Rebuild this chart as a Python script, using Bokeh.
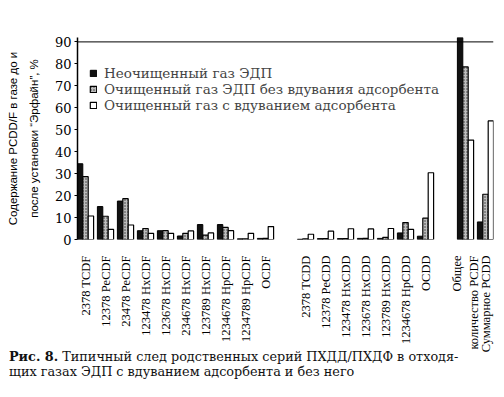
import math
import numpy as np
from bokeh.plotting import figure
from bokeh.layouts import column
from bokeh.models import (Range1d, FixedTicker, Span, Legend, LegendItem, ColumnDataSource,
                          Div, LinearAxis)
from bokeh.transform import dodge
from bokeh.embed import file_html
from bokeh.resources import INLINE

# ---- data ----
categories = ["2378 TCDF", "12378 PeCDF", "23478 PeCDF", "123478 HxCDF", "123678 HxCDF",
              "234678 HxCDF", "123789 HxCDF", "1234678 HpCDF", "1234789 HpCDF", "OCDF",
              "",
              "2378 TCDD", "12378 PeCDD", "123478 HxCDD", "123678 HxCDD", "123789 HxCDD",
              "1234678 HpCDD", "OCDD",
              "",
              "Общее\nколичество PCDF", "Суммарное PCDD"]
raw_gas = [34.5, 15, 17.5, 4, 4, 1.6, 6.8, 6.8, 0.3, 0.5,
           np.nan,
           0.1, 0.4, 0.4, 0.5, 0.5, 3, 1.5,
           np.nan,
           92, 8]
clean_no_ads = [28.6, 10.6, 18.6, 5, 4, 2.8, 2, 5.5, 0.3, 0.5,
                np.nan,
                0.3, 0.4, 0.4, 0.5, 1, 7.7, 9.7,
                np.nan,
                78.6, 20.6]
clean_ads = [10.7, 4.6, 6.6, 2.8, 2.8, 3.9, 3, 4, 2.8, 5.9,
             np.nan,
             2.4, 3.8, 4.9, 4.8, 5, 4.6, 30.4,
             np.nan,
             45.3, 54]
series_labels = ["Неочищенный газ ЭДП",
                 "Очищенный газ ЭДП без вдувания адсорбента",
                 "Очищенный газ с вдуванием адсорбента"]
y_ticks = [0, 10, 20, 30, 40, 50, 60, 70, 80, 90]
y_label_line1 = "Содержание PCDD/F в газе до и"
y_label_line2 = "после установки \u201cЭрфайн\u201d, %"
caption_bold = "Рис. 8."
caption_line1 = "Типичный след родственных серий ПХДД/ПХДФ в отходя-"
caption_line2 = "щих газах ЭДП с вдуванием адсорбента и без него"

idx = list(range(len(categories)))
src = ColumnDataSource(dict(x=idx, raw=raw_gas, noads=clean_no_ads, ads=clean_ads))

p = figure(width=504, height=355, x_range=Range1d(-0.4, len(categories) - 0.6),
           y_range=Range1d(0, 92), output_backend="svg", toolbar_location=None,
           min_border_left=77, min_border_right=11, min_border_top=37, min_border_bottom=108)
p.grid.visible = False
p.outline_line_color = None

bw = 0.27
r1 = p.vbar(x=dodge("x", -bw, range=p.x_range), top="raw", width=bw, bottom=0, source=src,
            fill_color="#111111", line_color="black", line_width=1)
r2 = p.vbar(x=dodge("x", 0, range=p.x_range), top="noads", width=bw, bottom=0, source=src,
            fill_color="#bdbdbd", line_color="black", line_width=1.2,
            hatch_pattern="dot", hatch_color="#333333", hatch_scale=3, hatch_weight=1)
r3 = p.vbar(x=dodge("x", bw, range=p.x_range), top="ads", width=bw, bottom=0, source=src,
            fill_color="white", line_color="black", line_width=1.2)

p.add_layout(Span(location=90, dimension="width", line_color="black", line_width=1))

# axes
xa = p.xaxis[0]
xa.ticker = FixedTicker(ticks=[i for i, c in enumerate(categories) if c])
xa.major_label_overrides = {i: c for i, c in enumerate(categories) if c}
xa.major_label_orientation = math.pi / 2
xa.axis_line_color = None
xa.major_tick_line_color = None
xa.minor_tick_line_color = None
xa.major_label_standoff = 10
xa.major_label_text_font = "Liberation Serif"
xa.major_label_text_font_size = "12.5px"
xa.major_label_text_color = "black"

label_font = "Liberation Sans"
label_size = "11.5px"

ya = p.yaxis[0]
ya.ticker = FixedTicker(ticks=y_ticks)
ya.minor_tick_line_color = None
ya.major_tick_out = 3
ya.major_tick_in = 0
ya.major_label_standoff = 3
ya.axis_line_width = 1.5
ya.major_label_text_font = "DejaVu Serif"
ya.major_label_text_font_size = "13px"
ya.major_label_text_color = "black"
ya.axis_label = y_label_line2
ya.axis_label_text_font = label_font
ya.axis_label_text_font_size = label_size
ya.axis_label_text_font_style = "normal"
ya.axis_label_text_color = "black"
ya.axis_label_standoff = 12

# second (outer) left axis carrying only the first line of the axis title
ya2 = LinearAxis(ticker=FixedTicker(ticks=[]), axis_line_color=None,
                 major_tick_line_color=None, minor_tick_line_color=None,
                 axis_label=y_label_line1, axis_label_text_font=label_font,
                 axis_label_text_font_size=label_size, axis_label_text_font_style="normal",
                 axis_label_text_color="black", axis_label_standoff=6)
p.add_layout(ya2, "left")

legend = Legend(items=[LegendItem(label=series_labels[0], renderers=[r1]),
                       LegendItem(label=series_labels[1], renderers=[r2]),
                       LegendItem(label=series_labels[2], renderers=[r3])],
                location=(12, 126))
legend.label_text_font = "DejaVu Serif"
legend.label_text_font_size = "13.5px"
legend.glyph_width = 8
legend.glyph_height = 8
legend.label_height = 15
legend.label_standoff = 7
legend.spacing = 0
legend.padding = 0
legend.margin = 0
legend.border_line_color = None
legend.background_fill_alpha = 0
p.add_layout(legend)

cap = Div(text=f"<b>{caption_bold}</b> {caption_line1}<br>{caption_line2}",
          width=504, height=42, margin=(-8, 0, 0, 0),
          styles={"font-family": "'DejaVu Serif', serif", "font-size": "12.8px",
                  "line-height": "15px", "color": "#111", "padding-left": "9px",
                  "padding-top": "2px", "white-space": "nowrap"})

layout = column(p, cap, spacing=0)
open("out.html", "w").write(file_html(layout, INLINE))
